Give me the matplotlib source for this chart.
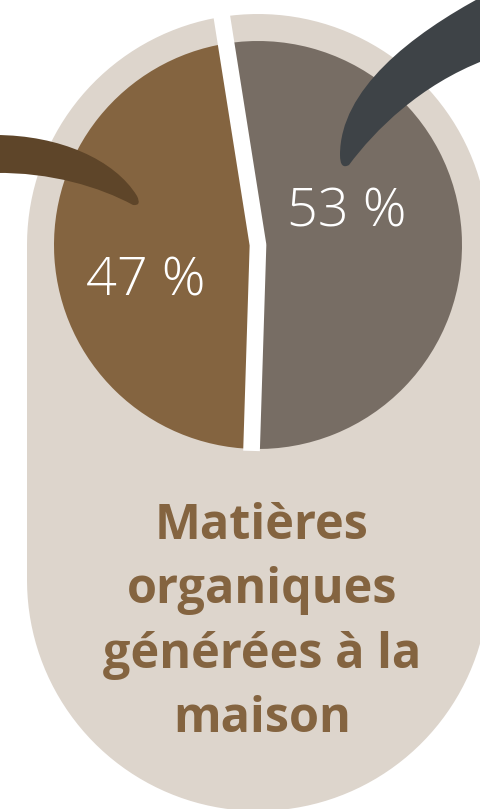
import numpy as np
import matplotlib
matplotlib.use("Agg")
import matplotlib.pyplot as plt
from matplotlib.path import Path
from matplotlib.patches import PathPatch

# data
labels = ["Matières organiques (maison)", "Autres"]
shares = [53, 47]
slice_colors = ["#776d64", "#846440"]
pct_labels = ["53 %", "47 %"]
title = "Matières\norganiques\ngénérées à la\nmaison"

W, H = 480, 809
BEIGE = "#ddd5cc"

fig = plt.figure(figsize=(W / 100, H / 100), dpi=100)
ax = fig.add_axes([0, 0, 1, 1])


def up(y):
    # image rows -> y-up data coords
    return H - y


# pie centre / radius in image pixels
cx, cy, r = 258, 245, 204
r_bg = 231

# beige stadium behind the pie
top_c = (cx, up(cy))
bot_c = (cx, up(580))
t1 = np.linspace(np.pi, 0, 80)
t2 = np.linspace(0, -np.pi, 80)
xs = np.concatenate([top_c[0] + r_bg * np.cos(t1), bot_c[0] + r_bg * np.cos(t2)])
ys = np.concatenate([top_c[1] + r_bg * np.sin(t1), bot_c[1] + r_bg * np.sin(t2)])
ax.fill(xs, ys, color=BEIGE, lw=0, zorder=1)

# pie
start = 99
wedges, _ = ax.pie(shares, colors=slice_colors, startangle=start, counterclock=False,
                   center=(cx, up(cy)), radius=r, frame=True,
                   wedgeprops=dict(linewidth=0))
for w in wedges:
    w.set_zorder(2)

# white gap between slices (top one cuts through the beige ring)
a_top = np.deg2rad(start)
a_bot = np.deg2rad(start - 360 * shares[0] / sum(shares))
ax.plot([cx + 245 * np.cos(a_top), cx, cx + (r + 2) * np.cos(a_bot)],
        [up(cy) + 245 * np.sin(a_top), up(cy), up(cy) + (r + 2) * np.sin(a_bot)],
        color="white", lw=12, solid_capstyle="butt", solid_joinstyle="round", zorder=3)

# decorative swooshes
def swoosh(verts, codes, color):
    v = [(x, up(y)) for x, y in verts]
    ax.add_patch(PathPatch(Path(v, codes), facecolor=color, lw=0, zorder=4))

C4, C3 = Path.CURVE4, Path.CURVE3
swoosh([(-5, 135), (60, 135), (115, 160), (137, 196), (142, 206), (133, 205),
        (100, 187), (50, 172), (-5, 173), (-5, 135)],
       [Path.MOVETO, C4, C4, C4, C3, C3, C4, C4, C4, Path.CLOSEPOLY], "#5e4529")
swoosh([(485, -5), (410, 35), (340, 90), (340, 155), (340, 170), (349, 165),
        (375, 130), (420, 85), (485, 60), (485, -5)],
       [Path.MOVETO, C4, C4, C4, C3, C3, C4, C4, C4, Path.CLOSEPOLY], "#3e4347")

# percentage labels
ax.text(347, up(213), pct_labels[0], color="white", fontsize=39, family="Open Sans",
        fontweight="light", ha="center", va="center", zorder=5)
ax.text(146, up(282), pct_labels[1], color="white", fontsize=39, family="Open Sans",
        fontweight="light", ha="center", va="center", zorder=5)

# title
ax.text(262, up(623), title, color="#846440", fontsize=35, family="Open Sans",
        fontweight="bold", ha="center", va="center", linespacing=1.42, zorder=5)

ax.set_xlim(0, W)
ax.set_ylim(0, H)
ax.set_aspect("auto")
ax.axis("off")

fig.savefig("out.png", dpi=100, facecolor="white")
